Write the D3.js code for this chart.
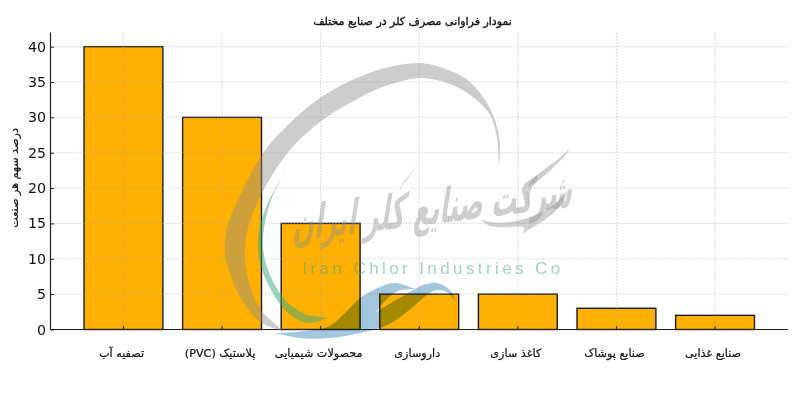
<!DOCTYPE html>
<html><head><meta charset="utf-8">
<script src="https://d3js.org/d3.v7.min.js"></script>
<style>
html,body{margin:0;padding:0;background:#fff}
svg{display:block}
text{font-family:"DejaVu Sans",sans-serif}
</style></head><body>
<svg id="c" width="800" height="402"></svg>
<script>
const categories = ["تصفیه آب","پلاستیک (PVC)","محصولات شیمیایی","داروسازی","کاغذ سازی","صنایع پوشاک","صنایع غذایی"];
const shares = [40,30,15,5,5,3,2];
const yTicks = [0,5,10,15,20,25,30,35,40];
const titleText = "نمودار فراوانی مصرف کلر در صنایع مختلف";
const yLabel = "درصد سهم هر صنعت";
const brandFa = "شرکت صنایع کلر ایران";
const brandEn = "Iran Chlor Industries Co";

const svg = d3.select("#c");
const L=50.5,R=788,B=329.5,T=32.5;
const x = d3.scaleBand().domain(categories).range([L,R]).paddingInner(0.2).paddingOuter(0.34);
const y = d3.scaleLinear().domain([0,42]).range([B,T]);

svg.append("g").selectAll("rect").data(categories).join("rect")
  .attr("x",d=>x(d)).attr("width",x.bandwidth())
  .attr("y",(d,i)=>y(shares[i])).attr("height",(d,i)=>B-y(shares[i]))
  .attr("fill","#ffb000").attr("stroke","#1a1a1a").attr("stroke-width",1.4);

const grid = svg.append("g").attr("fill","none").attr("stroke","#a8a8a8").attr("stroke-opacity",.5)
  .attr("stroke-dasharray","1.6 1.6").attr("stroke-width",1);
grid.selectAll("line.h").data(yTicks.slice(1)).join("line").attr("class","h")
  .attr("x1",L).attr("x2",R).attr("y1",d=>y(d)).attr("y2",d=>y(d));
grid.selectAll("line.v").data(categories).join("line").attr("class","v")
  .attr("x1",d=>x(d)+x.bandwidth()/2).attr("x2",d=>x(d)+x.bandwidth()/2).attr("y1",T).attr("y2",B);

const ax = svg.append("g").attr("transform",`translate(${L},0)`)
  .call(d3.axisLeft(y).tickValues(yTicks).tickSize(-3.5).tickPadding(4.5));
ax.select(".domain").attr("d",`M0,${T}V${B}`).attr("stroke","#222").attr("stroke-width",1.2);
ax.selectAll("text").attr("font-size",14.2).attr("fill","#111");
ax.selectAll(".tick line").attr("stroke","#222");

const bx = svg.append("g").attr("transform",`translate(0,${B})`)
  .call(d3.axisBottom(x).tickSize(-3.5).tickPadding(0));
bx.select(".domain").attr("d",`M${L},0H${R}`).attr("stroke","#222").attr("stroke-width",1.2);
bx.selectAll(".tick line").attr("stroke","#222");
bx.selectAll("text").attr("font-size",11.2).attr("fill","#111").attr("stroke","#111").attr("stroke-width",.2)
  .attr("y",27).attr("dy",0).attr("dx",-2).attr("direction","rtl").attr("text-anchor","middle");

svg.append("text").attr("x",412.5).attr("y",25).attr("text-anchor","middle").attr("direction","rtl")
  .attr("font-size",11).attr("fill","#111").attr("stroke","#111").attr("stroke-width",.35).text(titleText);
svg.append("text").attr("transform","translate(18,178) rotate(-90)").attr("text-anchor","middle").attr("direction","rtl")
  .attr("font-size",11.2).attr("fill","#111").attr("stroke","#111").attr("stroke-width",.2).text(yLabel);

// watermark logo (decoration, not data)
const wm = svg.append("g").attr("pointer-events","none");
const smooth = d3.line().curve(d3.curveCatmullRom.alpha(.5));
const ribbon = (...parts) => parts.map((p,i)=> i? smooth(p).replace(/^M/,"L") : smooth(p)).join("")+"Z";
const outer = [[499,167],[500,145],[495,120],[483,97],[465,78],[443,68],[420,63],[385,68],[350,81],[320,98],[293,120],[263,153],[238,200],[227,228],[225,252],[233,282],[247,308],[262,323],[283,331]];
const inner = [[262,312],[252,292],[245,258],[248,228],[262,193],[290,150],[320,122],[350,103],[380,88],[420,78],[447,83],[473,97],[490,115],[497,138],[499,167]];
wm.append("path").attr("d",ribbon(outer,inner)).attr("fill","#8c8c8c").attr("fill-opacity",.43);
const gOuter = [[291,163],[267,205],[258,238],[260,262],[270,288],[287,312],[307,323],[327,318]];
const gInner = [[307,315],[287,302],[270,275],[263,248],[265,222],[273,195],[291,163]];
wm.append("path").attr("d",ribbon(gOuter,gInner)).attr("fill","#3aa67e").attr("fill-opacity",.5);
const bUpper = [[275,333],[327,327],[345,313],[360,298],[380,287],[395,283],[415,289]];
const bHump = [[415,289],[398,291],[386,300],[376,312]];
const bBand = [[376,312],[403,296],[423,285],[437,283],[450,290],[456,302]];
const bLower = [[456,302],[447,292],[437,290],[427,295],[413,307],[393,322],[380,328],[360,333],[330,338],[300,338],[275,333]];
wm.append("path").attr("d",ribbon(bUpper,bHump,bBand,bLower)).attr("fill","#a4c6dc").style("mix-blend-mode","multiply");

wm.append("text").attr("x",433).attr("y",274).attr("text-anchor","middle")
  .attr("font-size",17).attr("letter-spacing",3.4).attr("fill","#4aa686").attr("fill-opacity",.5)
  .style("font-family","'Liberation Sans',sans-serif").text(brandEn);
wm.append("text").attr("direction","rtl").attr("text-anchor","middle")
  .attr("transform","translate(432,224) rotate(-7) skewX(-16) scale(1,1.9)")
  .attr("font-size",25).attr("font-weight","bold").attr("fill","#8c8c8c").attr("fill-opacity",.42)
  .style("font-family","'DejaVu Sans',sans-serif").text(brandFa);
const swashes = ["M571,147 C555,165 535,172 528,186 C526,195 530,205 527,214 C530,204 528,194 532,187 C542,176 560,165 571,147 Z",
 "M482,220 C500,226 520,222 540,213 C552,207 562,200 567,190 C566,204 552,216 535,226 C530,229 526,231 522,234 C528,226 522,226 510,227 C498,228 486,227 482,220 Z",
 "M419,162 C410,175 402,182 397,195 C401,186 410,176 419,162 Z"];
wm.append("g").selectAll("path").data(swashes).join("path").attr("d",d=>d)
  .attr("fill","#8c8c8c").attr("fill-opacity",.42);
</script>
</body></html>
